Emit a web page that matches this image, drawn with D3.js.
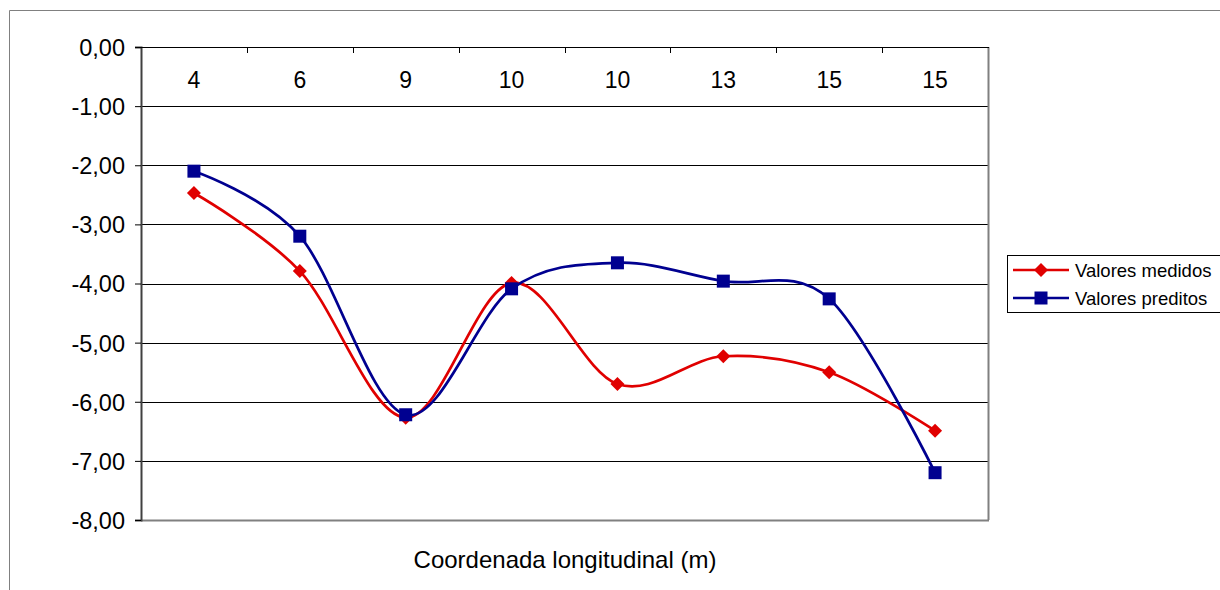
<!DOCTYPE html>
<html>
<head>
<meta charset="utf-8">
<script src="https://cdn.jsdelivr.net/npm/d3@7"></script>
<style>
  body { margin: 0; background: #fff; }
  text { font-family: "Liberation Sans", Arial, sans-serif; fill: #000; }
</style>
</head>
<body>
<script>
(function(){
  var width = 1220;
  var height = 590;

  var categories = ["4", "6", "9", "10", "10", "13", "15", "15"];
  var medidos = [-2.47, -3.79, -6.27, -3.99, -5.70, -5.23, -5.50, -6.49];
  var preditos = [-2.10, -3.20, -6.22, -4.09, -3.65, -3.96, -4.26, -7.20];
  var yTicks = [0, -1, -2, -3, -4, -5, -6, -7, -8];
  var seriesNames = ["Valores medidos", "Valores preditos"];

  var plot = { left: 141, right: 988, top: 47, bottom: 520 };

  var svg = d3.select("body").append("svg")
    .attr("width", width)
    .attr("height", height);

  // outer chart frame
  svg.append("path")
    .attr("d", "M9.5," + (height + 5) + "V10.5H" + (width + 5))
    .attr("fill", "none")
    .attr("stroke", "#808080")
    .attr("stroke-width", 1);

  var x = d3.scaleBand()
    .domain(d3.range(categories.length))
    .range([plot.left, plot.right]);

  var y = d3.scaleLinear()
    .domain([-8, 0])
    .range([plot.bottom, plot.top]);

  var fmt = function(d) { return d3.format(".2f")(d).replace(".", ",").replace("−", "-"); };

  // gridlines
  svg.append("g").selectAll("line")
    .data(yTicks.filter(d => d !== 0 && d !== -8))
    .join("line")
      .attr("x1", plot.left).attr("x2", plot.right)
      .attr("y1", d => Math.round(y(d)) + 0.5).attr("y2", d => Math.round(y(d)) + 0.5)
      .attr("stroke", "#000")
      .attr("stroke-width", 1);

  // right & bottom plot border
  svg.append("line")
    .attr("x1", plot.right + 0.5).attr("x2", plot.right + 0.5)
    .attr("y1", plot.top).attr("y2", plot.bottom)
    .attr("stroke", "#808080").attr("stroke-width", 2);
  svg.append("line")
    .attr("x1", plot.left).attr("x2", plot.right + 1)
    .attr("y1", plot.bottom + 0.5).attr("y2", plot.bottom + 0.5)
    .attr("stroke", "#808080").attr("stroke-width", 2);

  // y axis
  var yAxis = svg.append("g")
    .attr("transform", "translate(" + plot.left + ",0)")
    .call(d3.axisLeft(y).tickValues(yTicks).tickFormat(fmt).tickSizeOuter(0).tickSize(6).tickPadding(10));
  yAxis.attr("font-size", 23.5).attr("font-family", "'Liberation Sans', Arial, sans-serif");
  yAxis.select(".domain").attr("stroke", "#404040").attr("stroke-width", 2);
  yAxis.selectAll(".tick line").attr("stroke", "#000");
  yAxis.selectAll("text").attr("fill", "#000").attr("dy", "0.36em");

  // x axis (at top, value 0)
  var boundaries = d3.range(categories.length + 1).map(i => plot.left + i * x.step());
  svg.append("line")
    .attr("x1", plot.left).attr("x2", plot.right + 1)
    .attr("y1", plot.top + 0.5).attr("y2", plot.top + 0.5)
    .attr("stroke", "#000").attr("stroke-width", 1);
  svg.append("g").selectAll("line")
    .data(boundaries.slice(1, -1))
    .join("line")
      .attr("x1", d => Math.round(d) + 0.5).attr("x2", d => Math.round(d) + 0.5)
      .attr("y1", plot.top).attr("y2", plot.top + 6)
      .attr("stroke", "#000");
  svg.append("g").selectAll("text")
    .data(categories)
    .join("text")
      .attr("x", (d, i) => x(i) + x.bandwidth() / 2)
      .attr("y", 88)
      .attr("text-anchor", "middle")
      .attr("font-size", 23)
      .text(d => d);

  svg.append("text")
    .attr("x", 565)
    .attr("y", 568)
    .attr("text-anchor", "middle")
    .attr("font-size", 24)
    .text("Coordenada longitudinal (m)");

  var line = d3.line()
    .x((d, i) => x(i) + x.bandwidth() / 2)
    .y(d => y(d))
    .curve(d3.curveCatmullRom.alpha(0));

  var series = [
    { name: seriesNames[0], values: medidos, color: "#e00000", marker: "diamond" },
    { name: seriesNames[1], values: preditos, color: "#000090", marker: "square" }
  ];

  function drawMarker(g, type, color, cx, cy) {
    if (type === "diamond") {
      g.append("path")
        .attr("d", "M" + cx + "," + (cy - 7) + "L" + (cx + 7) + "," + cy + "L" + cx + "," + (cy + 7) + "L" + (cx - 7) + "," + cy + "Z")
        .attr("fill", color);
    } else {
      g.append("rect")
        .attr("x", cx - 6.5).attr("y", cy - 6.5)
        .attr("width", 13).attr("height", 13)
        .attr("fill", color);
    }
  }

  series.forEach(function(s) {
    svg.append("path")
      .datum(s.values)
      .attr("d", line)
      .attr("fill", "none")
      .attr("stroke", s.color)
      .attr("stroke-width", 2.7);
  });
  series.forEach(function(s) {
    var g = svg.append("g");
    s.values.forEach(function(v, i) {
      drawMarker(g, s.marker, s.color, x(i) + x.bandwidth() / 2, y(v));
    });
  });

  // legend
  var lg = svg.append("g");
  lg.append("rect")
    .attr("x", 1007.5).attr("y", 255.5)
    .attr("width", 230).attr("height", 57)
    .attr("fill", "#fff")
    .attr("stroke", "#000");
  series.forEach(function(s, i) {
    var ly = 270 + i * 28;
    lg.append("line")
      .attr("x1", 1013).attr("x2", 1069)
      .attr("y1", ly).attr("y2", ly)
      .attr("stroke", s.color).attr("stroke-width", 2.5);
    drawMarker(lg, s.marker, s.color, 1041, ly);
    lg.append("text")
      .attr("x", 1075).attr("y", ly + 7)
      .attr("font-size", 18.5)
      .text(s.name);
  });
})();
</script>
</body>
</html>
